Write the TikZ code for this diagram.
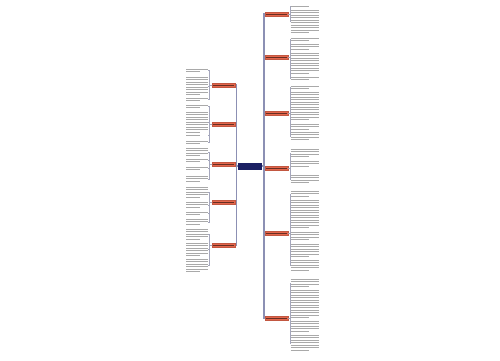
\documentclass[tikz,border=0pt]{standalone}
\definecolor{navy}{HTML}{1B2063}
\definecolor{brick}{HTML}{E4664C}
\definecolor{spinec}{HTML}{8C90B4}
\definecolor{brkc}{HTML}{A4A6BC}
\definecolor{txtc}{HTML}{A9A9A9}
% paragraph: name, x, top, lines, width
\newcommand\para[5]{%
  \node[para,minimum width=#5pt,minimum height=#4*2.5pt,anchor=north west] (#1) at (#2,#3) {};
  \foreach \k in {1,...,#4}{
    \pgfmathsetmacro\len{(\k==#4)?0.65*#5:#5}
    \draw[txt] ([yshift={-\k*2.5pt+1.25pt}]#1.north west) -- ++(\len,0);}}
\begin{document}
\begin{tikzpicture}[x=1pt, y=-1pt,
  para/.style={inner sep=0},
  txt/.style={txtc, line width=.9pt},
  topic/.style={fill=brick, draw=brick!85!black, line width=.3pt, inner sep=0, minimum width=23.5pt, minimum height=4.5pt},
  ttxt/.style={brick!45!black, line width=.5pt},
  spine/.style={spinec, line width=1.6pt},
  brk/.style={brkc, line width=.5pt}]
\useasboundingbox[fill=white] (0,0) rectangle (500,360);
\node[fill=navy, inner sep=0, minimum width=24pt, minimum height=7pt] (root) at (250,166) {};
\draw[white, line width=.6pt] ([shift={(3,-2.2)}]root.north west) -- ([shift={(-3,-2.2)}]root.north east);
\draw[white, line width=.6pt] ([shift={(7,2.2)}]root.south west) -- ([shift={(-7,2.2)}]root.south east);
% left side
\foreach \i/\y/\ps in {1/85/{68/2,76/8,97/2},
    2/124/{104/2,111/9,134/1,140/2},
    3/164/{147/4,158/2,166/2,175/3},
    4/202/{186/5,201/3,211/2,218/3},
    5/245/{228/5,242/6,258/6}}{
  \node[topic, anchor=east] (l\i) at (235.5,\y) {};
  \draw[ttxt] ([xshift=1.5pt]l\i.west) -- ([xshift=-1.5pt]l\i.east);
  \draw[spine] (root.west) -- ++(-1.5,0) |- (l\i.east);
  \foreach \t/\m [count=\j] in \ps {
    \para{l\i-\j}{186}{\t}{\m}{22}
    \draw[brk] (l\i.west) -- ++(-2,0) |- (l\i-\j.east);
  }
}
% right side
\foreach \i/\y/\ps in {1/14/{5/1,9/10},
    2/57/{37/2,43/3,52/9,76/2},
    3/113/{85/2,91/12,123/3,131/4},
    4/168/{148/4,160/3,174/4},
    5/233/{190/3,199/12,231/4,243/6,259/5},
    6/318/{278/4,289/12,320/5,334/7}}{
  \node[topic, anchor=west] (r\i) at (264.5,\y) {};
  \draw[ttxt] ([xshift=1.5pt]r\i.west) -- ([xshift=-1.5pt]r\i.east);
  \draw[spine] (root.east) -- ++(1.5,0) |- (r\i.west);
  \foreach \t/\m [count=\j] in \ps {
    \para{r\i-\j}{290.5}{\t}{\m}{28}
    \draw[brk] (r\i.east) -- ++(2,0) |- (r\i-\j.west);
  }
}
\end{tikzpicture}
\end{document}
